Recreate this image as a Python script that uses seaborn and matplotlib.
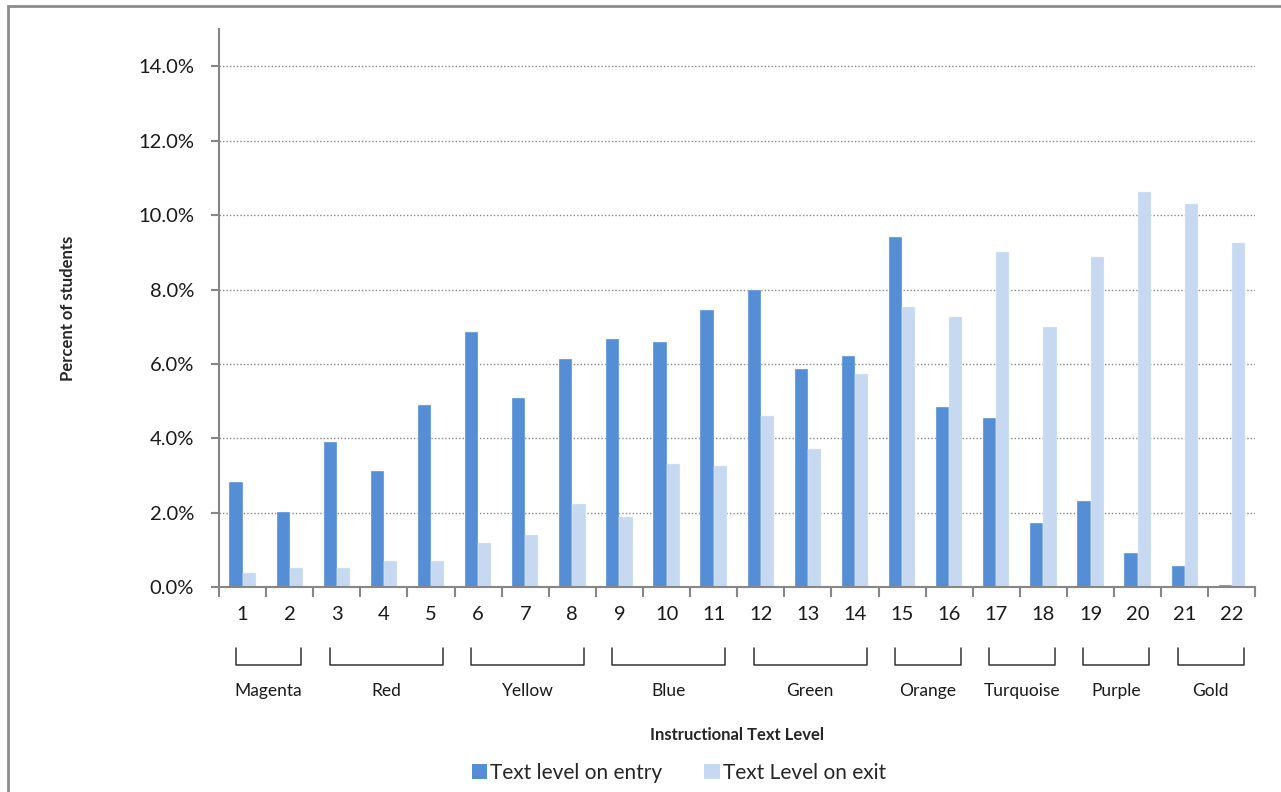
import matplotlib
matplotlib.use("Agg")
import matplotlib.pyplot as plt
import matplotlib.transforms as mtransforms
from matplotlib.patches import Rectangle, Patch
from matplotlib.ticker import FuncFormatter, FixedLocator
import seaborn as sns
import pandas as pd

# data (percent of students)
levels = [str(i) for i in range(1, 23)]
entry = [2.81, 2.02, 3.90, 3.11, 4.89, 6.85, 5.08, 6.12, 6.66, 6.60, 7.44,
         8.00, 5.87, 6.21, 9.41, 4.83, 4.53, 1.73, 2.32, 0.90, 0.55, 0.06]
exit_ = [0.36, 0.50, 0.50, 0.69, 0.69, 1.19, 1.40, 2.23, 1.88, 3.31, 3.26,
         4.59, 3.71, 5.73, 7.54, 7.25, 9.02, 7.00, 8.87, 10.61, 10.31, 9.26]
series_names = ["Text level on entry", "Text Level on exit"]

group_names = ["Magenta", "Red", "Yellow", "Blue", "Green", "Orange",
               "Turquoise", "Purple", "Gold"]
group_first = [1, 3, 6, 9, 12, 15, 17, 19, 21]
group_last = [2, 5, 8, 11, 14, 16, 18, 20, 22]

colors = ["#558ED5", "#C6D9F1"]

df = pd.DataFrame({
    "level": levels * 2,
    "pct": entry + exit_,
    "series": [series_names[0]] * len(levels) + [series_names[1]] * len(levels),
})

sns.set_theme(style="white")
plt.rcParams["font.family"] = ["Lato", "DejaVu Sans"]

fig = plt.figure(figsize=(12.81, 7.92), dpi=100)
ax = fig.add_axes([0.171, 0.259, 0.809, 0.704])

sns.barplot(data=df, x="level", y="pct", hue="series", order=levels,
            hue_order=series_names, palette=colors, saturation=1,
            width=0.56, gap=0, edgecolor="#e8eef8", linewidth=0.3,
            ax=ax, legend=False)

ax.set_ylim(0, 15)
ax.set_xlim(-0.5, len(levels) - 0.5)
ax.yaxis.set_major_locator(FixedLocator([0, 2, 4, 6, 8, 10, 12, 14]))
ax.yaxis.set_major_formatter(FuncFormatter(lambda v, p: f"{v:.1f}%"))
ax.yaxis.grid(True, linestyle=(0, (1, 1.5)), color="#888888", linewidth=1)
ax.set_axisbelow(True)

for s in ["top", "right"]:
    ax.spines[s].set_visible(False)
for s in ["left", "bottom"]:
    ax.spines[s].set_color("#868686")
    ax.spines[s].set_linewidth(1.5)

ax.tick_params(axis="y", which="major", left=True, length=6, width=1.5,
               color="#868686", labelsize=14.5, labelcolor="#1a1a1a", pad=12)
ax.tick_params(axis="x", which="major", bottom=False, length=0,
               labelsize=14.5, labelcolor="#1a1a1a", pad=14)
ax.set_xticks(range(len(levels)))
ax.set_xticklabels(levels)
ax.set_xticks([i - 0.5 for i in range(len(levels) + 1)], minor=True)
ax.tick_params(axis="x", which="minor", bottom=True, length=7, width=1.5,
               color="#868686", direction="out")

ax.set_xlabel("Instructional Text Level", fontsize=12, fontweight="bold",
              labelpad=0)
ax.xaxis.set_label_coords(0.5, -0.251)
ax.set_ylabel("Percent of students", fontsize=12, fontweight="bold")
ax.yaxis.set_label_coords(-0.138, 0.5)

# brackets grouping the levels into colour bands
trans = mtransforms.blended_transform_factory(ax.transData, ax.transAxes)
y_top, y_bot = -0.109, -0.140
for name, a, b in zip(group_names, group_first, group_last):
    x0 = (a - 1) - 0.15
    x1 = (b - 1) + 0.25
    ax.plot([x0, x0, x1, x1], [y_top, y_bot, y_bot, y_top], color="#333333",
            linewidth=1.1, transform=trans, clip_on=False)
    ax.text((x0 + x1) / 2, -0.186, name, transform=trans, ha="center",
            va="center", fontsize=12.5, color="#1a1a1a")

handles = [Patch(facecolor=c, edgecolor="none") for c in colors]
fig.legend(handles, series_names, loc="center", bbox_to_anchor=(0.53, 0.024),
           ncol=2, frameon=False, fontsize=15, handlelength=0.75,
           handleheight=0.75, handletextpad=0.15, columnspacing=2.0)

# outer border of the chart area
fig.patches.append(Rectangle((8 / 1281, -0.05), 1.1, 1.05 - 6 / 792,
                             transform=fig.transFigure, fill=False,
                             edgecolor="#8c8c8c", linewidth=2))

fig.savefig("out.png", dpi=100)
